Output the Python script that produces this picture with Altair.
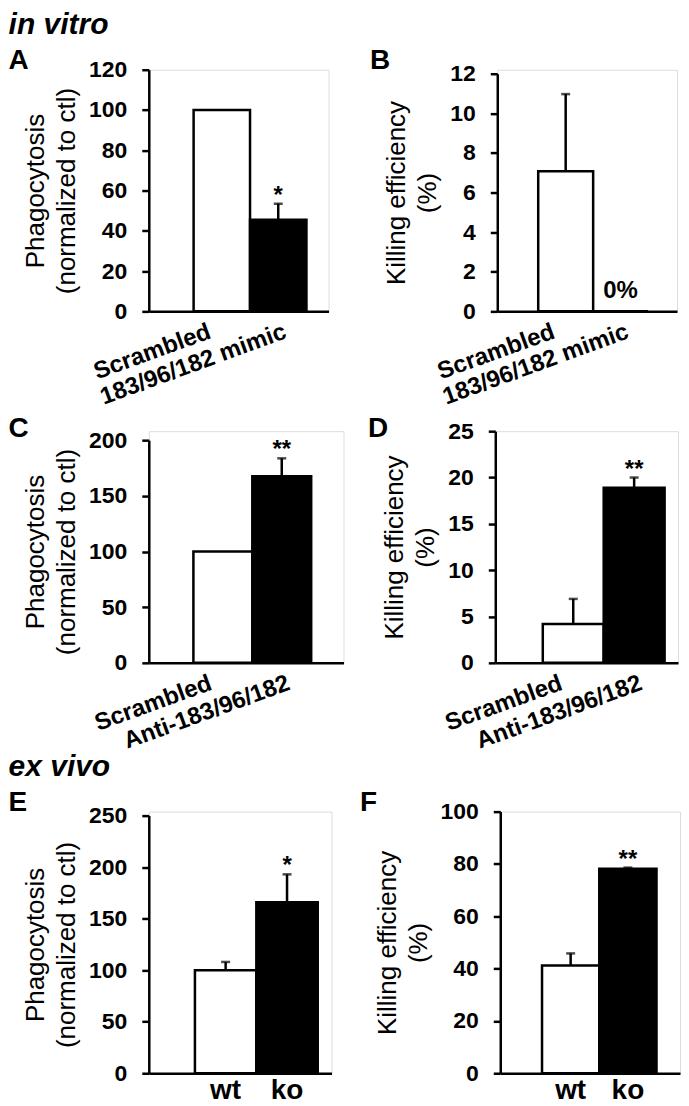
import altair as alt
import pandas as pd

FONT = "Liberation Sans"

# ---------------- data ----------------
a_cats = ["Scrambled", "183/96/182 mimic"]
a_mean = [100, 45.5]
a_err = [0, 8]
a_sig = ["", "*"]

b_cats = ["Scrambled", "183/96/182 mimic"]
b_mean = [7.07, 0]
b_err = [3.9, 0]
b_sig = ["", ""]
b_note = ["", "0%"]

c_cats = ["Scrambled", "Anti-183/96/182"]
c_mean = [100, 167.7]
c_err = [0, 16]
c_sig = ["", "**"]

d_cats = ["Scrambled", "Anti-183/96/182"]
d_mean = [4.2, 18.9]
d_err = [2.7, 1.1]
d_sig = ["", "**"]

e_cats = ["wt", "ko"]
e_mean = [100, 166]
e_err = [8, 27]
e_sig = ["", "*"]

f_cats = ["wt", "ko"]
f_mean = [41.2, 78.2]
f_err = [4.6, 0.4]
f_sig = ["", "**"]

phago_title = ["Phagocytosis", "(normalized to ctl)"]
kill_title = ["Killing efficiency", "(%)"]


def panel(title, cats, mean, err, sig, ymax, ystep, ytitle, w, h, top_gap,
          pad_outer, align, angle, note=None):
    df = pd.DataFrame({
        "cat": cats,
        "idx": list(range(len(cats))),
        "mean": mean,
        "err": err,
        "top": [m + e for m, e in zip(mean, err)],
        "sig": sig,
        "note": note if note is not None else [""] * len(cats),
    })
    rotated = angle != 0
    if rotated:
        xaxis = alt.Axis(
            title=None, ticks=False, labelAngle=angle,
            labelAlign="right", labelBaseline="top", labelPadding=8,
            labelOffset={"condition": {"test": "datum.value == 'Scrambled'", "value": -16},
                         "value": 3},
            labelFontSize=24, labelFontWeight="bold", labelFont=FONT,
            labelColor="black", domainColor="black", domainWidth=2.5,
            labelOverlap=False, labelLimit=400,
        )
    else:
        xaxis = alt.Axis(
            title=None, ticks=False, labelAngle=0,
            labelAlign="center", labelBaseline="top", labelPadding=3,
            labelFontSize=28, labelFontWeight="bold", labelFont=FONT,
            labelColor="black", domainColor="black", domainWidth=2.5,
            labelOverlap=False, labelLimit=400,
        )
    xscale = alt.Scale(paddingInner=0, paddingOuter=pad_outer, align=align)
    x = alt.X("cat:N", sort=cats, scale=xscale, axis=xaxis)
    yaxis = alt.Axis(
        values=list(range(0, ymax + 1, ystep)), grid=False, title=ytitle,
        titleFontSize=26, titleFontWeight="normal", titleFont=FONT,
        titleColor="black", titleLineHeight=31, titlePadding=9,
        labelFontSize=23, labelFontWeight="bold", labelFont=FONT,
        labelColor="black", labelPadding=15, tickSize=7, tickWidth=2.5,
        tickColor="black", domainColor="black", domainWidth=2.5,
        labelOverlap=False, labelFlush=False,
    )
    yscale = alt.Scale(domain=[0, ymax], nice=False, range=[h, top_gap])
    y = alt.Y("mean:Q", scale=yscale, axis=yaxis)
    base = alt.Chart(df)
    bars = base.mark_bar(stroke="black", strokeWidth=2.5).encode(
        x=x, y=y,
        fill=alt.Fill("idx:O", scale=alt.Scale(domain=[0, 1], range=["white", "black"]),
                      legend=None),
    )
    edf = base.transform_filter("datum.err > 0")
    rule = edf.mark_rule(color="black", strokeWidth=2.5).encode(
        x=alt.X("cat:N", sort=cats), y="mean:Q", y2="top:Q")
    cap = edf.mark_tick(color="black", thickness=2.5, size=9).encode(
        x=alt.X("cat:N", sort=cats), y="top:Q")
    stars = base.transform_filter("datum.sig != ''").mark_text(
        font=FONT, fontSize=24, fontWeight="bold", baseline="alphabetic",
        dy=-1, color="black").encode(
        x=alt.X("cat:N", sort=cats), y="top:Q", text="sig:N")
    layers = [bars, rule, cap, stars]
    if note is not None:
        notes = base.transform_filter("datum.note != ''").mark_text(
            font=FONT, fontSize=24, fontWeight="bold", baseline="bottom",
            dy=-8, color="black").encode(
            x=alt.X("cat:N", sort=cats), y="mean:Q", text="note:N")
        layers.append(notes)
    return alt.layer(*layers).properties(width=w, height=h, title=title)


def letter_title(letter, offset, header=None):
    # header text (italic section label) above the panel letter
    if header is None:
        return alt.TitleParams(letter, anchor="start", font=FONT, fontSize=28,
                               fontWeight="bold", color="black", dx=-14,
                               offset=offset, baseline="bottom")
    return alt.TitleParams(header, subtitle=letter, anchor="start", font=FONT,
                           fontSize=30, fontWeight="bold", fontStyle="italic",
                           color="black", subtitleFont=FONT, subtitleFontSize=28,
                           subtitleFontWeight="bold", subtitleFontStyle="normal",
                           subtitleColor="black", subtitlePadding=5,
                           dx=-14, offset=offset, baseline="bottom")


A = panel(letter_title("A", -46, "in vitro"), a_cats, a_mean, a_err, a_sig, 120, 20,
          phago_title, 180, 242, 0, 0.593, 0.67, 340)
B = panel(letter_title("B", -42, " "), b_cats, b_mean, b_err, b_sig, 12, 2,
          kill_title, 180, 242, 4, 0.636, 0.586, 340, note=b_note)
C = panel(letter_title("C", -42), c_cats, c_mean, c_err, c_sig, 200, 50,
          phago_title, 195, 232, 9, 0.653, 0.58, 340)
D = panel(letter_title("D", -51), d_cats, d_mean, d_err, d_sig, 25, 5,
          kill_title, 183, 232, 0, 0.50, 0.78, 340)
E = panel(letter_title("E", -42, "ex vivo"), e_cats, e_mean, e_err, e_sig, 250, 50,
          phago_title, 183, 262, 4, 0.488, 0.77, 0)
F = panel(letter_title("F", -46, " "), f_cats, f_mean, f_err, f_sig, 100, 20,
          kill_title, 180, 262, 0, 0.57, 0.64, 0)

row1 = alt.hconcat(A, B, spacing=39)
row2 = alt.hconcat(C, D, spacing=22)
row3 = alt.hconcat(E, F, spacing=27)

chart = alt.vconcat(alt.vconcat(row1, row2, spacing=4), row3, spacing=-3).properties(
    padding={"left": 0, "top": 0, "right": 0, "bottom": 0}
).configure_view(stroke=None).configure(background="white")

chart.save("out.html", embed_options={"renderer": "svg", "actions": False})
